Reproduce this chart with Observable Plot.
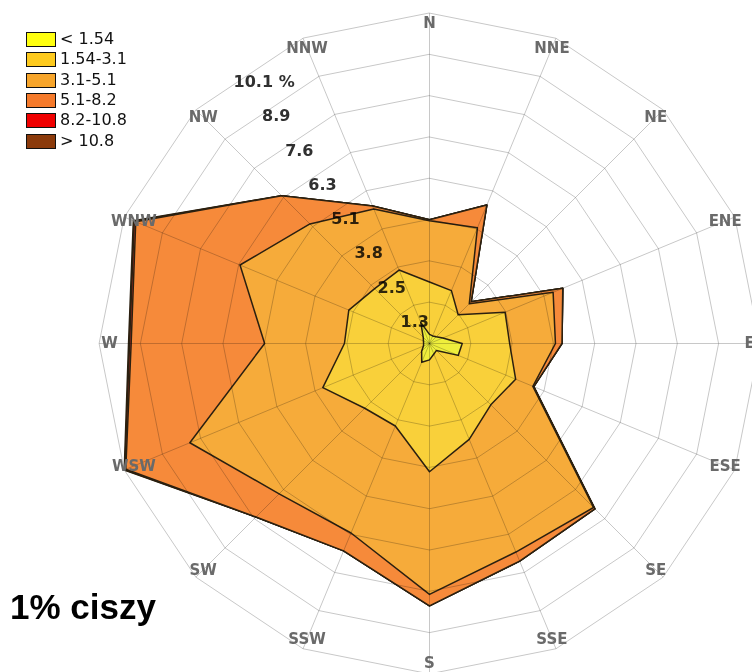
<!DOCTYPE html>
<html><head><meta charset="utf-8">
<script src="https://cdn.jsdelivr.net/npm/d3@7"></script>
<script src="https://cdn.jsdelivr.net/npm/@observablehq/plot@0.6"></script>
<style>
body{margin:0;background:#fff;}
#wrap{position:relative;width:752px;height:672px;overflow:hidden;}
#legend{position:absolute;left:26px;top:32px;font-family:"DejaVu Sans";font-size:16px;color:#111;}
.row{position:absolute;left:0;height:16px;white-space:nowrap;}
.sw{position:absolute;left:0;top:0;width:28px;height:13px;border:1.5px solid #111;}
.lb{position:absolute;left:34px;top:-2px;line-height:18px;}
#calm{position:absolute;left:10px;top:587px;font-family:"Liberation Sans";font-weight:bold;font-size:35px;color:#000;}
</style></head><body>
<div id="wrap"><div id="chart"></div><div id="legend"></div><div id="calm">1% ciszy</div></div>
<script>
// ---- data ----
const directions = ["N","NNE","NE","ENE","E","ESE","SE","SSE","S","SSW","SW","WSW","W","WNW","NW","NNW"];
const speedClasses = ["< 1.54","1.54-3.1","3.1-5.1","5.1-8.2","8.2-10.8","> 10.8"];
// frequency (%) per direction for each speed class
const freqLt154   = [0.28,0.25,0.29,0.44,1.00,0.95,0.30,0.35,0.50,0.62,0.34,0.20,0.18,0.20,0.27,0.70];
const freq154_31  = [1.60,1.50,0.95,2.06,1.45,1.90,2.35,2.82,3.42,2.11,2.46,3.33,2.42,2.47,2.10,1.73];
const freq31_51   = [1.87,2.08,0.48,1.59,1.40,0.57,4.44,3.73,3.75,3.54,3.70,4.40,2.44,3.60,2.80,2.02];
const freq51_82   = [0.03,0.75,0.08,0.32,0.20,0.03,0.06,0.30,0.35,0.59,1.00,2.12,4.08,3.45,1.22,0.10];
const freq82_108  = [0,0,0,0,0,0,0,0,0,0,0,0.03,0.05,0.05,0,0];
const freqGt108   = [0,0,0,0,0,0,0,0,0,0,0,0.02,0.03,0.03,0,0];
const ringLabels = ["1.3","2.5","3.8","5.1","6.3","7.6","8.9","10.1 %"];
const ringStep = 1.2625;
const fillColors = ["#eeee3c","#f9d03a","#f6ab3a","#f68a3a","#e8302a","#8a3a10"];
const legendColors = ["#ffff10","#fdca1e","#f7a52b","#f57a2b","#f00000","#8b3a0b"];

// ---- derived ----
const series = [freqLt154,freq154_31,freq31_51,freq51_82,freq82_108,freqGt108];
let acc = new Array(16).fill(0);
const cum = series.map(s => { acc = acc.map((a,i)=>a+s[i]); return acc.slice(); });
const ang = i => i*Math.PI/8;
const pts = vals => vals.map((v,i)=>({x:v*Math.sin(ang(i)), y:v*Math.cos(ang(i))}));

const S = 41.3/ringStep; // px per percent
const cx = 429, cy = 343, W = 752, H = 672;

const ringData = [];
for (let k=1;k<=8;k++) for (let i=0;i<16;i++) ringData.push({k, x:k*ringStep*Math.sin(ang(i)), y:k*ringStep*Math.cos(ang(i))});
const R = 8*ringStep;
const spokes = directions.map((d,i)=>({x1:0,y1:0,x2:R*Math.sin(ang(i)),y2:R*Math.cos(ang(i))}));
const la = -34*Math.PI/180;
const rl = ringLabels.map((t,k)=>{const r=(k+1)*ringStep-15/S; return {t, x:r*Math.sin(la), y:r*Math.cos(la)};});
const rDir = 320/S;
const dirLab = directions.map((d,i)=>({d, x:rDir*Math.sin(ang(i)), y:rDir*Math.cos(ang(i))}));

const marks = [];
for (let j=5;j>=0;j--) {
  marks.push(Plot.line(pts(cum[j]), {x:"x", y:"y", curve:"linear-closed", fill:fillColors[j], stroke:"#2b2010", strokeWidth:1.5}));
}
marks.push(Plot.line(ringData, {x:"x", y:"y", z:"k", curve:"linear-closed", stroke:"#c8c8c8", strokeWidth:1, mixBlendMode:"multiply"}));
marks.push(Plot.link(spokes, {x1:"x1", y1:"y1", x2:"x2", y2:"y2", stroke:"#c8c8c8", strokeWidth:1, mixBlendMode:"multiply"}));
marks.push(Plot.text(rl.slice(0,7), {x:"x", y:"y", text:"t", fontSize:16, fontWeight:"bold", fill:"#303030", mixBlendMode:"multiply"}));
marks.push(Plot.text(rl.slice(7), {x:"x", y:"y", text:"t", dx:11, fontSize:16, fontWeight:"bold", fill:"#303030", mixBlendMode:"multiply"}));
marks.push(Plot.text(dirLab, {x:"x", y:"y", text:"d", fontSize:15, fontWeight:"bold", fill:"#6a6a6a"}));

const chart = Plot.plot({
  width: W, height: H, margin: 0,
  style: {fontFamily: "DejaVu Sans", background: "#fff"},
  x: {domain: [-cx/S, (W-cx)/S], axis: null},
  y: {domain: [(cy-H)/S, cy/S], axis: null},
  marks
});
document.getElementById("chart").appendChild(chart);

const lg = document.getElementById("legend");
speedClasses.forEach((c,i)=>{
  const row = document.createElement("div");
  row.className="row"; row.style.top = (i*20.3)+"px";
  row.innerHTML = `<div class="sw" style="background:${legendColors[i]}"></div><div class="lb">${c.replace("<","&lt;").replace(">","&gt;")}</div>`;
  lg.appendChild(row);
});
</script></body></html>
